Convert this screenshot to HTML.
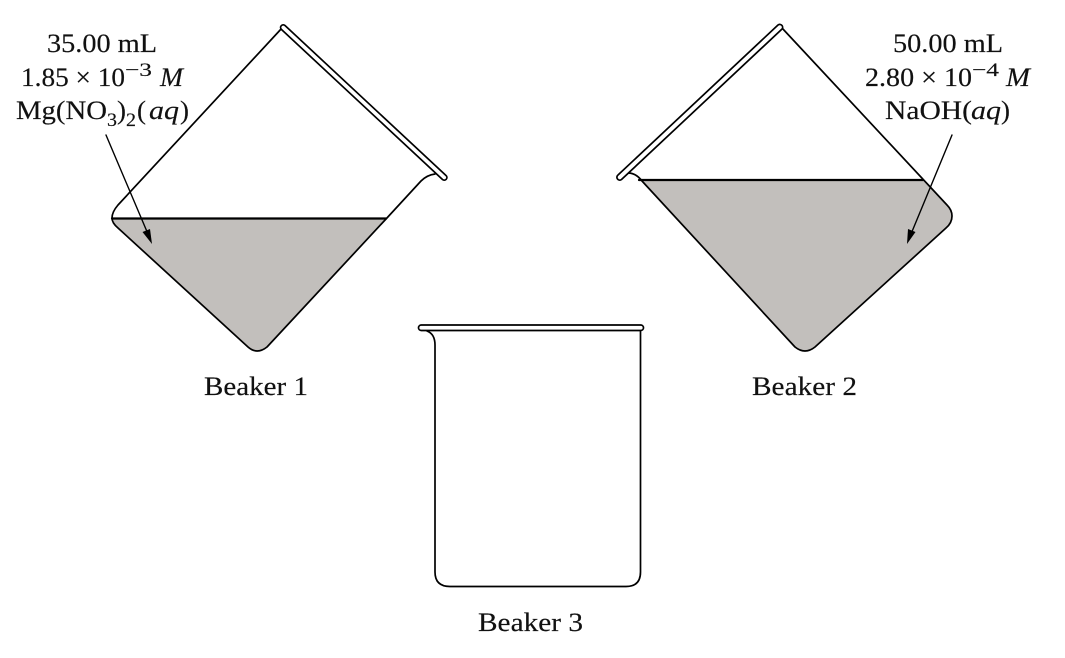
<!DOCTYPE html>
<html><head><meta charset="utf-8"><style>
html,body{margin:0;padding:0;background:#fff}
svg{display:block}
text{font-family:"Liberation Serif",serif;font-size:26px;fill:#111;stroke:#111;stroke-width:.15}
.s{font-size:19px}
.i{font-style:italic}
</style></head><body>
<svg width="1065" height="658" viewBox="0 0 1065 658" xmlns="http://www.w3.org/2000/svg">
<g fill="none" stroke="#000" stroke-linejoin="round" stroke-linecap="round">
<!-- Beaker 1 -->
<path d="M112 218.500H386L267 347Q257 355 248 347L118 228Q112 223 112 218.500Z" fill="#c2bfbc" stroke="none"/>
<path d="M282 28L118 205Q112 212 112 218Q112 223 118 228L248 347Q257 355 267 347L386 219L421 181Q427 175 435 174" stroke-width="1.7"/>
<line x1="112" y1="218.500" x2="386" y2="218.500" stroke-width="2.2"/>
<path d="M285 25.500L446 175.500A2.500 2.500 0 0 1 442.500 179.500L281.500 29.500A2.500 2.500 0 0 1 285 25.500Z" fill="#fff" stroke-width="1.7"/>
<!-- Beaker 2 -->
<path d="M640 180H923L947 205Q952 210 952 216Q952 223 946 228L815 347Q805 355 795 347Z" fill="#c2bfbc" stroke="none"/>
<path d="M628 173Q636 173 642 181L795 347Q805 355 815 347L946 228Q952 223 952 216Q952 210 947 205L782 28" stroke-width="1.7"/>
<line x1="639" y1="180" x2="923" y2="180" stroke-width="2.2"/>
<path d="M778 25L618 175A2.500 2.500 0 0 0 621.500 179.500L781.500 29.500A2.500 2.500 0 0 0 778 25Z" fill="#fff" stroke-width="1.7"/>
<!-- Beaker 3 -->
<path d="M427 331Q435 334 435 345V572Q435 586.500 450 586.500H626Q640.500 586.500 640.500 572V331" stroke-width="1.7"/>
<rect x="418.500" y="325" width="225" height="5.500" rx="2.750" fill="#fff" stroke-width="1.7"/>
<!-- Arrows -->
<line x1="106" y1="135" x2="148" y2="234" stroke-width="1.4"/>
<line x1="952" y1="135" x2="911" y2="234" stroke-width="1.4"/>
</g>
<polygon points="152,244 142.500,232 150,229" fill="#000"/>
<polygon points="907,244 908,229 915.500,232" fill="#000"/>
<g lengthAdjust="spacingAndGlyphs">
<!-- Left label -->
<text lengthAdjust="spacingAndGlyphs" x="47" y="52" textLength="110">35.00 mL</text>
<text lengthAdjust="spacingAndGlyphs" x="21" y="86" textLength="104">1.85 × 10</text>
<text lengthAdjust="spacingAndGlyphs" class="s" x="125" y="76" textLength="27">−3</text>
<text lengthAdjust="spacingAndGlyphs" class="i" x="160" y="86" textLength="23">M</text>
<text lengthAdjust="spacingAndGlyphs" x="16" y="119" textLength="91">Mg(NO</text>
<text lengthAdjust="spacingAndGlyphs" class="s" x="107" y="126" textLength="10">3</text>
<text lengthAdjust="spacingAndGlyphs" x="117" y="119" textLength="9">)</text>
<text lengthAdjust="spacingAndGlyphs" class="s" x="126" y="126" textLength="10">2</text>
<text lengthAdjust="spacingAndGlyphs" x="137" y="119" textLength="9">(</text>
<text lengthAdjust="spacingAndGlyphs" class="i" x="149" y="119" textLength="30">aq</text>
<text lengthAdjust="spacingAndGlyphs" x="180" y="119" textLength="9">)</text>
<!-- Right label -->
<text lengthAdjust="spacingAndGlyphs" x="893" y="52" textLength="110">50.00 mL</text>
<text lengthAdjust="spacingAndGlyphs" x="865" y="86" textLength="107">2.80 × 10</text>
<text lengthAdjust="spacingAndGlyphs" class="s" x="972" y="76" textLength="27">−4</text>
<text lengthAdjust="spacingAndGlyphs" class="i" x="1006" y="86" textLength="24">M</text>
<text lengthAdjust="spacingAndGlyphs" x="885" y="119" textLength="87">NaOH(</text>
<text lengthAdjust="spacingAndGlyphs" class="i" x="971" y="119" textLength="30">aq</text>
<text lengthAdjust="spacingAndGlyphs" x="1001" y="119" textLength="9">)</text>
<!-- Captions -->
<text lengthAdjust="spacingAndGlyphs" x="204" y="395" textLength="104">Beaker 1</text>
<text lengthAdjust="spacingAndGlyphs" x="752" y="395" textLength="105">Beaker 2</text>
<text lengthAdjust="spacingAndGlyphs" x="478" y="631" textLength="105">Beaker 3</text>
</g>
</svg>
</body></html>
